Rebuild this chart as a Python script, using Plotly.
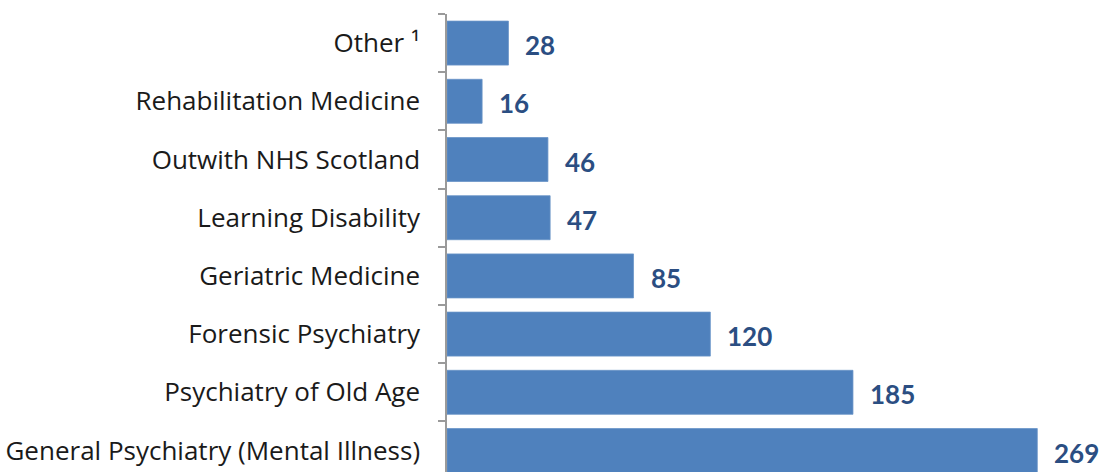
import plotly.graph_objects as go

# Specialties, listed bottom to top
categories = [
    "General Psychiatry (Mental Illness)",
    "Psychiatry of Old Age",
    "Forensic Psychiatry",
    "Geriatric Medicine",
    "Learning Disability",
    "Outwith NHS Scotland",
    "Rehabilitation Medicine",
    "Other \u00b9",
]
values = [269, 185, 120, 85, 47, 46, 16, 28]

BAR_COLOR = "#4F81BD"
LABEL_COLOR = "#2B4E82"
AXIS_COLOR = "#9A9A9A"

fig = go.Figure(
    go.Bar(
        x=values,
        y=categories,
        orientation="h",
        marker=dict(color=BAR_COLOR, line=dict(color="#6A94C8", width=0.8)),
        hoverinfo="x+y",
    )
)

# Value labels to the right of each bar
for cat, val in zip(categories, values):
    fig.add_annotation(
        x=val, y=cat, text=f"<b>{val}</b>", showarrow=False,
        xanchor="left", yanchor="middle", xshift=15, yshift=-2,
        font=dict(family="Lato", size=26, color=LABEL_COLOR),
    )

fig.update_layout(
    width=1104, height=472,
    margin=dict(l=447, r=0, t=14, b=0),
    paper_bgcolor="white", plot_bgcolor="white",
    bargap=0.244,
    showlegend=False,
    xaxis=dict(
        range=[0, 299.4], visible=False, fixedrange=True,
    ),
    yaxis=dict(
        type="category",
        categoryorder="array", categoryarray=categories,
        range=[-0.369, 7.5],
        showline=True, linecolor=AXIS_COLOR, linewidth=1.5,
        ticks="outside", tickson="boundaries", ticklen=7,
        tickcolor=AXIS_COLOR, tickwidth=1.5,
        showgrid=False,
        ticklabelstandoff=20,
        tickfont=dict(family="Open Sans", size=26, color="#1A1A1A"),
        fixedrange=True,
    ),
)

fig.write_html("out.html")
